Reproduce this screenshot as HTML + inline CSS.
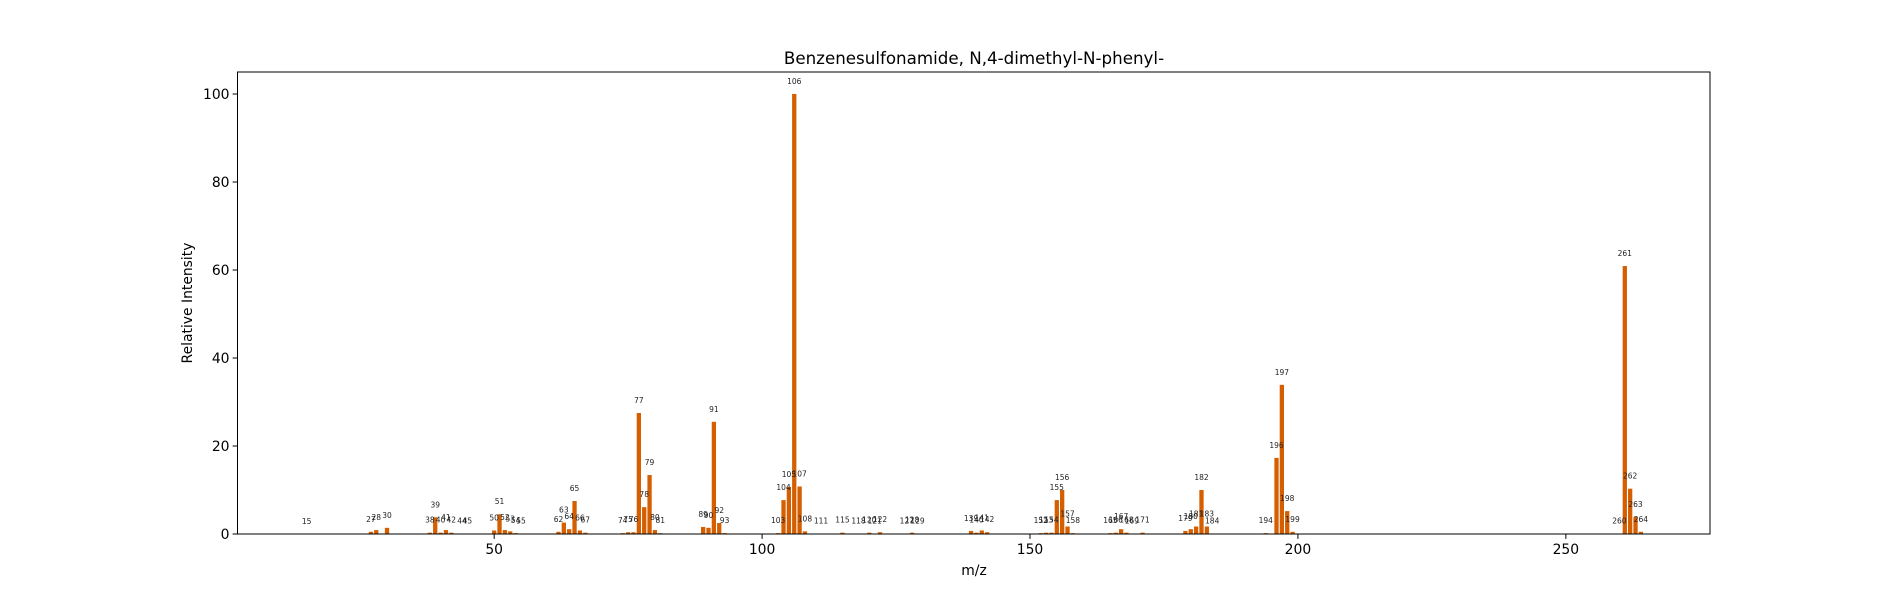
<!DOCTYPE html>
<html><head><meta charset="utf-8"><style>
html,body{margin:0;padding:0;background:#fff}
svg text{font-family:"DejaVu Sans","Liberation Sans",sans-serif}
</style></head><body>
<svg id="chart" width="1900" height="600" xmlns="http://www.w3.org/2000/svg">
<rect width="1900" height="600" fill="#fff"/>
<text x="974" y="64" font-size="16.7" text-anchor="middle" fill="#000">Benzenesulfonamide, N,4-dimethyl-N-phenyl-</text>
<g id="bars"></g>
<g id="labels"></g>
<g id="xticks"></g>
<g id="yticks"></g>
<rect x="237.5" y="72" width="1472.5" height="462" fill="none" stroke="#000" stroke-width="1"/>
<text x="974" y="575" font-size="13.9" text-anchor="middle">m/z</text>
<text x="192" y="303" font-size="13.9" text-anchor="middle" transform="rotate(-90 192 303)">Relative Intensity</text>
</svg>
<script>
const mzValues = [15,27,28,30,38,39,40,41,42,44,45,50,51,52,53,54,55,62,63,64,65,66,67,74,75,76,77,78,79,80,81,89,90,91,92,93,103,104,105,106,107,108,111,115,118,120,121,122,127,128,129,139,140,141,142,152,153,154,155,156,157,158,165,166,167,168,169,171,179,180,181,182,183,184,194,196,197,198,199,260,261,262,263,264];
const intensities = [0.05,0.5,0.9,1.4,0.3,3.8,0.3,0.9,0.3,0.1,0.1,0.8,4.5,0.9,0.6,0.2,0.1,0.5,2.6,1.1,7.5,0.8,0.3,0.2,0.4,0.4,27.5,6.1,13.4,0.9,0.2,1.6,1.4,25.5,2.5,0.2,0.2,7.7,10.7,100,10.8,0.6,0.1,0.3,0.1,0.3,0.1,0.4,0.1,0.3,0.1,0.7,0.3,0.8,0.4,0.2,0.3,0.3,7.7,10.0,1.7,0.2,0.2,0.3,1.1,0.3,0.1,0.3,0.7,1.1,1.7,10.0,1.7,0.1,0.2,17.3,33.9,5.2,0.5,0.1,60.9,10.3,3.9,0.5];
const xTickValues = [50,100,150,200,250];
const yTickValues = [0,20,40,60,80,100];
const NS="http://www.w3.org/2000/svg";
const X0=237.5,X1=1710,Y0=534,Y1=72,xmin=2.1,xmax=276.9,ymin=0,ymax=105;
function xs(v){return X0+(v-xmin)/(xmax-xmin)*(X1-X0);}
function ys(v){return Y0-(v-ymin)/(ymax-ymin)*(Y0-Y1);}
function mk(t,a){const e=document.createElementNS(NS,t);for(const k in a)e.setAttribute(k,a[k]);return e;}
const gb=document.getElementById('bars'),gl=document.getElementById('labels');
const bw=xs(0.8)-xs(0);
mzValues.forEach((m,i)=>{
  const v=intensities[i];
  const r=mk('rect',{x:xs(m)-bw/2,y:ys(v),width:bw,height:Y0-ys(v),fill:'#d55e00'});
  
  
  gb.appendChild(r);
  const t=mk('text',{x:xs(m),y:ys(v)-10,'font-size':'7.5','text-anchor':'middle',fill:'#222'});
  t.textContent=String(m);
  
  
  gl.appendChild(t);
});
const gx=document.getElementById('xticks');
xTickValues.forEach(v=>{
  const l=mk('line',{x1:xs(v),x2:xs(v),y1:Y0,y2:Y0+4.9,stroke:'#000'});
  
  
  gx.appendChild(l);
  const t=mk('text',{x:xs(v),y:Y0+20,'font-size':'13.9','text-anchor':'middle'});
  t.textContent=v;
  
  
  gx.appendChild(t);
});
const gy=document.getElementById('yticks');
yTickValues.forEach(v=>{
  const l=mk('line',{x1:X0-4.9,x2:X0,y1:ys(v),y2:ys(v),stroke:'#000'});
  
  
  gy.appendChild(l);
  const t=mk('text',{x:X0-8,y:ys(v)+5,'font-size':'13.9','text-anchor':'end'});
  t.textContent=v;
  
  
  gy.appendChild(t);
});
</script>
</body></html>
